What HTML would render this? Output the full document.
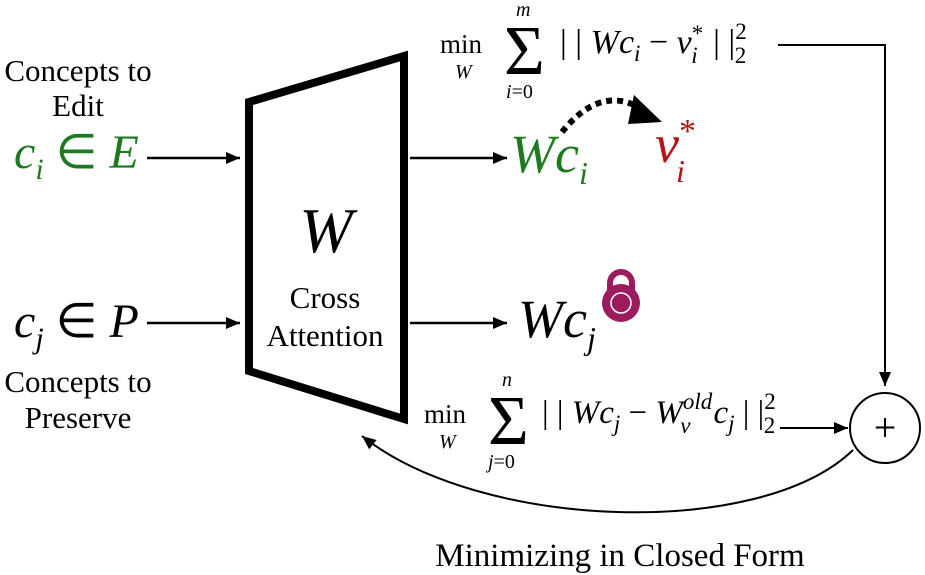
<!DOCTYPE html>
<html><head><meta charset="utf-8"><style>
html,body{margin:0;padding:0;background:#fff;}
svg{display:block;font-family:"Liberation Serif",serif;}
</style></head><body>
<svg width="925" height="575" viewBox="0 0 925 575">
<defs>
<marker id="ah" markerWidth="16" markerHeight="12" refX="14" refY="6" orient="auto" markerUnits="userSpaceOnUse"><path d="M0,0 L14,6 L0,12 z" fill="#000"/></marker>
</defs>
<polygon points="249,102 404,56 404,419 249,371" fill="none" stroke="#000" stroke-width="8"/>
<text x="326" y="252" font-size="64" font-style="italic" text-anchor="middle">W</text>
<text x="325" y="308" font-size="31" text-anchor="middle">Cross</text>
<text x="325" y="346" font-size="31" text-anchor="middle">Attention</text>

<text x="78" y="81" font-size="31" text-anchor="middle">Concepts to</text>
<text x="78" y="116" font-size="31" text-anchor="middle">Edit</text>
<text x="14" y="168" font-size="48" font-style="italic" fill="#1e7a1e">c<tspan font-size="30" dy="11">i</tspan><tspan dy="-11" font-style="normal"> ∈ </tspan>E</text>
<line x1="147" y1="158" x2="240" y2="158" stroke="#000" stroke-width="2.5" marker-end="url(#ah)"/>
<line x1="410" y1="158" x2="507" y2="158" stroke="#000" stroke-width="2.5" marker-end="url(#ah)"/>
<text x="510" y="172" font-size="54" font-style="italic" fill="#1e7a1e">Wc<tspan font-size="32" dy="12">i</tspan></text>
<path d="M562,132 Q600,85 640,108" fill="none" stroke="#000" stroke-width="6" stroke-dasharray="6,5"/>
<polygon points="634,95 662,122 628,124" fill="#000"/>
<text x="655" y="162" font-size="54" font-style="italic" fill="#b01414">v<tspan font-size="34" dy="-20" font-style="normal">*</tspan><tspan font-size="32" dy="40" dx="-20">i</tspan></text>

<text x="14" y="337" font-size="48" font-style="italic">c<tspan font-size="30" dy="11">j</tspan><tspan dy="-11" font-style="normal"> ∈ </tspan>P</text>
<line x1="147" y1="323" x2="240" y2="323" stroke="#000" stroke-width="2.5" marker-end="url(#ah)"/>
<text x="78" y="392" font-size="31" text-anchor="middle">Concepts to</text>
<text x="78" y="428" font-size="31" text-anchor="middle">Preserve</text>
<line x1="410" y1="323" x2="507" y2="323" stroke="#000" stroke-width="2.5" marker-end="url(#ah)"/>
<text x="518" y="337" font-size="54" font-style="italic">Wc<tspan font-size="32" dy="12">j</tspan></text>
<g>
<path d="M610,293 V283 a11,11 0 0 1 22,0 V293" fill="none" stroke="#9b1b5e" stroke-width="6"/>
<circle cx="621" cy="303" r="19" fill="#9b1b5e"/>
<circle cx="621" cy="303" r="10" fill="none" stroke="#fff" stroke-width="1.5"/>
</g>

<g>
<text x="440" y="53" font-size="27">min</text>
<text x="455" y="78" font-size="20" font-style="italic">W</text>
<text x="504" y="74" font-size="70">Σ</text>
<text x="516" y="16" font-size="20" font-style="italic">m</text>
<text x="506" y="98" font-size="20"><tspan font-style="italic">i</tspan>=0</text>
<text x="560" y="53" font-size="34">| | <tspan font-style="italic">Wc</tspan><tspan font-size="23" dy="8" font-style="italic">i</tspan><tspan dy="-8"> − </tspan><tspan font-style="italic">v</tspan><tspan font-size="23" dy="-12">*</tspan><tspan font-size="23" dy="22" dx="-12" font-style="italic">i</tspan><tspan dy="-10" dx="7"> | |</tspan><tspan font-size="23" dy="-14">2</tspan><tspan font-size="23" dy="24" dx="-12">2</tspan></text>
</g>
<polyline points="778,45 885,45 885,386" fill="none" stroke="#000" stroke-width="2" marker-end="url(#ah)"/>

<g>
<text x="424" y="423" font-size="27">min</text>
<text x="439" y="448" font-size="20" font-style="italic">W</text>
<text x="488" y="444" font-size="70">Σ</text>
<text x="502" y="386" font-size="20" font-style="italic">n</text>
<text x="488" y="468" font-size="20"><tspan font-style="italic">j</tspan>=0</text>
<text x="542" y="423" font-size="33">| | <tspan font-style="italic">Wc</tspan><tspan font-size="23" dy="8" font-style="italic">j</tspan><tspan dy="-8"> − </tspan><tspan font-style="italic">W</tspan><tspan font-size="23" dy="-14" font-style="italic">old</tspan><tspan font-size="23" dy="24" dx="-32" font-style="italic">v</tspan><tspan dy="-10" dx="23" font-style="italic">c</tspan><tspan font-size="23" dy="8" font-style="italic">j</tspan><tspan dy="-8"> | |</tspan><tspan font-size="23" dy="-14">2</tspan><tspan font-size="23" dy="24" dx="-12">2</tspan></text>
</g>
<line x1="780" y1="428" x2="848" y2="428" stroke="#000" stroke-width="2" marker-end="url(#ah)"/>
<circle cx="885" cy="428" r="35" fill="#fff" stroke="#000" stroke-width="2"/>
<text x="885" y="441" font-size="40" text-anchor="middle">+</text>
<path d="M853,450 C760,540 480,530 362,436" fill="none" stroke="#000" stroke-width="2" marker-end="url(#ah)"/>
<text x="620" y="566" font-size="33" text-anchor="middle">Minimizing in Closed Form</text>
</svg>
</body></html>
